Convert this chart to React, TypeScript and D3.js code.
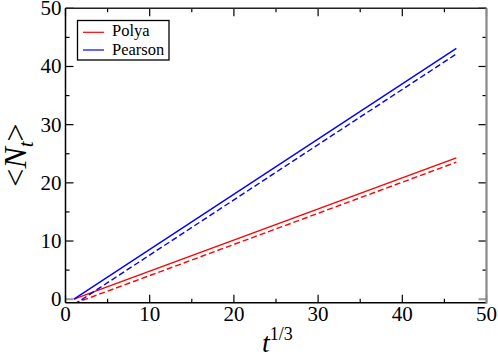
import React from "react";
import * as d3 from "d3";

// t^{1/3} endpoints of each curve
const tCubeRoot = [1, 46.42];
// <N_t> values
const polyaExact = [0, 24.3];
const polyaAsym = [-0.75, 23.55];
const pearsonExact = [0, 43.1];
const pearsonAsym = [-0.95, 42.15];

const xTicks = [0, 10, 20, 30, 40, 50];
const yTicks = [0, 10, 20, 30, 40, 50];
const minorTicks = [5, 15, 25, 35, 45];

const legendNames = ["Polya", "Pearson"];

const W = 498;
const H = 355;
const L = 65.5, R = 486.5, T = 8.3, B = 302.7;

export default function App() {
  const x = d3.scaleLinear().domain([0, 50]).range([L, R]);
  const y = d3.scaleLinear().domain([-0.6, 50]).range([B, T]);
  const line = d3
    .line<[number, number]>()
    .x((d) => x(d[0]))
    .y((d) => y(d[1]));
  const pts = (ys: number[]) => tCubeRoot.map((t, i) => [t, ys[i]] as [number, number]);

  const series = [
    { ys: polyaExact, color: "#ff0000", dash: undefined },
    { ys: polyaAsym, color: "#ff0000", dash: "6,3" },
    { ys: pearsonExact, color: "#0000ff", dash: undefined },
    { ys: pearsonAsym, color: "#0000ff", dash: "6,3" },
  ];
  const font = "'Liberation Serif', 'Times New Roman', serif";

  return (
    <svg
      width={W}
      height={H}
      style={{ position: "absolute", left: 0, top: 0, background: "#fff" }}
    >
      <defs>
        <clipPath id="plot">
          <rect x={L} y={T} width={R - L} height={B - T} />
        </clipPath>
      </defs>
      <g clipPath="url(#plot)">
        {series.map((s, i) => (
          <path
            key={i}
            d={line(pts(s.ys)) || ""}
            fill="none"
            stroke={s.color}
            strokeWidth={1.4}
            strokeDasharray={s.dash}
          />
        ))}
      </g>
      {/* ticks */}
      {xTicks.map((v) => (
        <g key={"xt" + v}>
          <line x1={x(v)} x2={x(v)} y1={B} y2={B - 8} stroke="#000" strokeWidth={1.2} />
          <line x1={x(v)} x2={x(v)} y1={T} y2={T + 8} stroke="#000" strokeWidth={1.2} />
        </g>
      ))}
      {minorTicks.map((v) => (
        <g key={"xm" + v}>
          <line x1={x(v)} x2={x(v)} y1={B} y2={B - 4} stroke="#000" strokeWidth={1.2} />
          <line x1={x(v)} x2={x(v)} y1={T} y2={T + 4} stroke="#000" strokeWidth={1.2} />
          <line x1={L} x2={L + 4} y1={y(v)} y2={y(v)} stroke="#000" strokeWidth={1.2} />
          <line x1={R} x2={R - 4} y1={y(v)} y2={y(v)} stroke="#000" strokeWidth={1.2} />
        </g>
      ))}
      {yTicks.map((v) => (
        <g key={"yt" + v}>
          <line
            x1={L}
            x2={L + 8}
            y1={y(v)}
            y2={y(v)}
            stroke={v === 0 ? "#999" : "#000"}
            strokeWidth={v === 0 ? 2 : 1.2}
          />
          <line
            x1={R}
            x2={R - 8}
            y1={y(v)}
            y2={y(v)}
            stroke={v === 0 ? "#999" : "#000"}
            strokeWidth={v === 0 ? 2 : 1.2}
          />
        </g>
      ))}
      {/* frame */}
      <line x1={L} x2={R} y1={T} y2={T} stroke="#222" strokeWidth={1.4} />
      <line x1={L} x2={R} y1={B} y2={B} stroke="#000" strokeWidth={1.5} />
      <line x1={L} x2={L} y1={T} y2={B} stroke="#000" strokeWidth={1.5} />
      <line x1={R} x2={R} y1={T} y2={B + 0.75} stroke="#888" strokeWidth={2.2} />
      {/* tick labels */}
      {xTicks.map((v) => (
        <text
          key={"xl" + v}
          x={x(v)}
          y={321}
          textAnchor="middle"
          fontFamily={font}
          fontSize={21}
        >
          {v}
        </text>
      ))}
      {yTicks.map((v) => (
        <text
          key={"yl" + v}
          x={61.5}
          y={y(v) + 7}
          textAnchor="end"
          fontFamily={font}
          fontSize={21}
        >
          {v}
        </text>
      ))}
      {/* axis titles */}
      <text x={262} y={351.5} fontFamily={font} fontSize={28} fontStyle="italic">
        t
        <tspan fontStyle="normal" fontSize={18} dy={-12}>
          1/3
        </tspan>
      </text>
      <text
        transform="translate(26,155) rotate(-90)"
        textAnchor="middle"
        fontFamily={font}
        fontSize={32}
      >
        {"<"}
        <tspan fontStyle="italic">N</tspan>
        <tspan fontStyle="italic" fontSize={21} dy={7}>
          t
        </tspan>
        <tspan dy={-7}>{">"}</tspan>
      </text>
      {/* legend */}
      <rect x={77.5} y={20.5} width={91.5} height={39.5} fill="#fff" stroke="#000" strokeWidth={1.3} />
      {legendNames.map((n, i) => (
        <g key={n}>
          <line
            x1={83}
            x2={104}
            y1={32.3 + i * 17.7}
            y2={32.3 + i * 17.7}
            stroke={i === 0 ? "#ff0000" : "#0000ff"}
            strokeWidth={1.2}
          />
          <text x={112} y={36 + i * 18.5} fontFamily={font} fontSize={16.5}>
            {n}
          </text>
        </g>
      ))}
    </svg>
  );
}
